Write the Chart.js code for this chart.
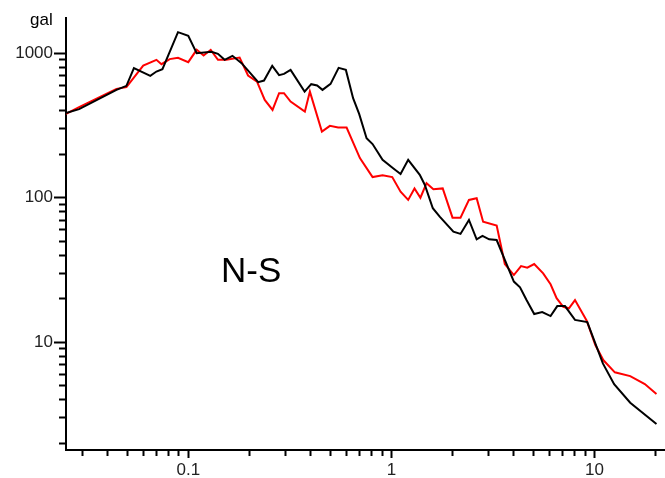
<!DOCTYPE html>
<html>
<head>
<meta charset="utf-8">
<script src="https://cdn.jsdelivr.net/npm/chart.js@4.4.1/dist/chart.umd.min.js"></script>
<style>
  html, body { margin: 0; padding: 0; background: #fff; }
  #wrap { width: 665px; height: 478px; position: relative; }
</style>
</head>
<body>
<div id="wrap"><canvas id="specChart"></canvas></div>
<script>
// spectrum values (frequency in Hz, amplitude in gal)
const blackFreq = [0.025, 0.029, 0.0443, 0.0496, 0.054, 0.065, 0.0697, 0.0746, 0.089, 0.1, 0.11, 0.13, 0.14, 0.151, 0.165, 0.183,
    0.221, 0.236, 0.259, 0.28, 0.296, 0.319, 0.374, 0.403, 0.431, 0.458, 0.502, 0.55, 0.597, 0.648, 0.694, 0.755, 0.808, 0.905,
    1.02, 1.11, 1.21, 1.38, 1.46, 1.6, 1.73, 2.02, 2.19, 2.41, 2.63, 2.81, 3.03, 3.3, 3.62, 4.01, 4.3, 4.63, 5.05, 5.53, 6.08,
    6.56, 7.16, 8.02, 9.22, 11.0, 12.5, 15, 20.2];
const blackGal = [385, 410, 557, 594, 788, 697, 746, 775, 1397, 1317, 1000, 1021, 989, 899, 958, 852,
    630, 646, 817, 704, 719, 766, 542, 610, 597, 557, 613, 791, 766, 488, 380, 258, 235, 183,
    160, 146, 183, 144, 123, 84.6, 74, 58.3, 56.2, 70.2, 51.6, 54.4, 51.6, 51, 37.1, 26.3, 24, 19.6, 15.7, 16.2, 15.2,
    17.8, 17.8, 14.3, 13.8, 7.15, 5.14, 3.82, 2.72];

const redFreq = [0.025, 0.029, 0.0443, 0.0496, 0.06, 0.0697, 0.0738, 0.081, 0.089, 0.1, 0.11, 0.119, 0.129, 0.14, 0.154, 0.179,
    0.197, 0.218, 0.238, 0.26, 0.28, 0.296, 0.319, 0.375, 0.397, 0.455, 0.498, 0.547, 0.602, 0.7, 0.808, 0.905,
    1.01, 1.11, 1.21, 1.3, 1.39, 1.49, 1.61, 1.79, 2.0, 2.19, 2.41, 2.63, 2.83, 3.3, 3.62, 4.01, 4.35, 4.67, 5.05,
    5.59, 6.08, 6.51, 7.02, 7.49, 8.02, 9.16, 10.1, 11.05, 12.6, 15, 17.7, 20.2];
const redGal = [380, 423, 566, 582, 821, 899, 839, 909, 928, 866, 1054, 962, 1054, 899, 899, 933,
    700, 636, 475, 405, 529, 529, 462, 394, 542, 287, 314, 306, 306, 188, 139, 143,
    139, 110, 96.6, 116, 100, 126, 114.5, 116, 72.8, 72.8, 96.6, 99.2, 68.3, 64.1, 34.8, 29.2, 33.7, 32.8, 34.8,
    30, 25.2, 20.2, 17.6, 17.2, 19.6, 14.1, 9.58, 7.54, 6.2, 5.84, 5.14, 4.39];

// labelled ticks, minor ticks go at 2..9 of each decade
const xTickLabels = [0.1, 1, 10];
const yTickLabels = [10, 100, 1000];

function logTicks(lo, hi) {
    const out = [];
    for (let e = -3; e <= 4; e++) {
        for (let m = 1; m <= 9; m++) {
            const v = Number((m * Math.pow(10, e)).toPrecision(3));
            if (v >= lo && v <= hi) out.push({ value: v, major: m === 1 });
        }
    }
    return out;
}

function isLabelled(list, v) {
    return list.some(t => Math.abs(t - v) / t < 1e-6);
}

const textPlugin = {
    id: 'texts',
    afterDraw(chart) {
        const c = chart.ctx;
        c.save();
        c.fillStyle = '#000';
        c.textBaseline = 'alphabetic';
        c.font = '17px "Liberation Sans", Arial, sans-serif';
        c.fillText('gal', 30, 25);
        c.font = '35px "Liberation Sans", Arial, sans-serif';
        c.fillText('N-S', 221, 282);
        c.restore();
    }
};

const toPoints = (xs, ys) => xs.map((x, i) => ({ x: x, y: ys[i] }));

const ctx = document.getElementById('specChart').getContext('2d');
const specChart = new Chart(ctx, {
    type: 'line',
    data: {
        datasets: [{
            label: 'black',
            data: toPoints(blackFreq, blackGal),
            borderColor: '#000000',
            borderWidth: 2,
            pointRadius: 0,
            tension: 0
        }, {
            label: 'red',
            data: toPoints(redFreq, redGal),
            borderColor: '#ff0000',
            borderWidth: 2,
            pointRadius: 0,
            tension: 0
        }]
    },
    options: {
        responsive: true,
        maintainAspectRatio: false,
        animation: false,
        layout: { padding: { top: 18, right: 1, left: 0, bottom: 0 } },
        plugins: {
            legend: { display: false },
            tooltip: { enabled: false }
        },
        scales: {
            x: {
                type: 'logarithmic',
                min: 0.025,
                max: 22,
                afterBuildTicks: axis => { axis.ticks = logTicks(0.025, 22); },
                afterFit: axis => { axis.height = 28; },
                border: { display: true, color: '#000', width: 2 },
                grid: {
                    drawOnChartArea: false,
                    tickLength: 8,
                    tickWidth: 2,
                    tickColor: '#000',
                    tickBorderDash: c => (c.tick && isLabelled(xTickLabels, c.tick.value)) ? [] : [5, 100]
                },
                ticks: {
                    autoSkip: false,
                    maxRotation: 0,
                    padding: 2,
                    color: '#222',
                    font: { family: '"Liberation Sans", Arial, sans-serif', size: 17 },
                    callback: v => isLabelled(xTickLabels, v) ? String(v) : ''
                }
            },
            y: {
                type: 'logarithmic',
                min: 1.8,
                max: 1750,
                afterBuildTicks: axis => { axis.ticks = logTicks(1.8, 1750); },
                afterFit: axis => { axis.width = 66; },
                border: { display: true, color: '#000', width: 2 },
                grid: {
                    drawOnChartArea: false,
                    tickLength: 12,
                    tickWidth: 2,
                    tickColor: '#000',
                    tickBorderDash: c => (c.tick && isLabelled(yTickLabels, c.tick.value)) ? [] : [0, 5, 7, 100]
                },
                ticks: {
                    autoSkip: false,
                    padding: 1,
                    color: '#222',
                    font: { family: '"Liberation Sans", Arial, sans-serif', size: 17 },
                    callback: v => isLabelled(yTickLabels, v) ? String(v) : ''
                }
            }
        }
    },
    plugins: [textPlugin]
});
</script>
</body>
</html>
